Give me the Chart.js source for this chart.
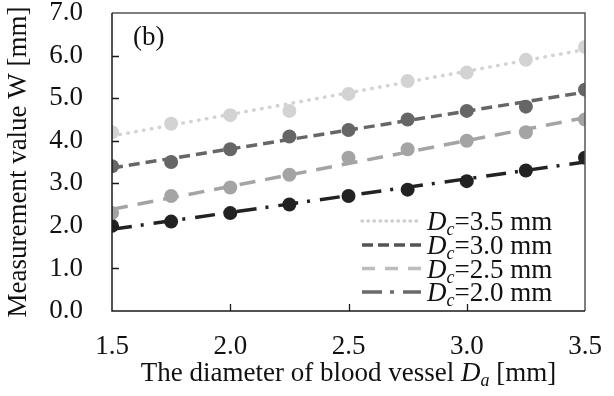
<!DOCTYPE html>
<html>
<head>
<meta charset="UTF-8">
<title>Measurement value W</title>
<script src="https://cdn.jsdelivr.net/npm/chart.js"></script>
<style>
  html, body { margin: 0; padding: 0; background: #fff; }
  #wrap { width: 614px; height: 396px; }
</style>
</head>
<body>
<div id="wrap"><canvas id="chart" width="614" height="396"></canvas></div>
<script>
// blood vessel diameter Da [mm]
var diameters = [1.5, 1.75, 2.0, 2.25, 2.5, 2.75, 3.0, 3.25, 3.5];

// measured W [mm] for each Dc
var seriesDc = ['3.5', '3.0', '2.5', '2.0'];
var wDc35 = [4.2, 4.4, 4.6, 4.7, 5.1, 5.4, 5.6, 5.9, 6.2];
var wDc30 = [3.4, 3.5, 3.8, 4.1, 4.25, 4.5, 4.7, 4.8, 5.2];
var wDc25 = [2.3, 2.7, 2.9, 3.2, 3.6, 3.8, 4.0, 4.2, 4.5];
var wDc20 = [2.0, 2.1, 2.3, 2.5, 2.7, 2.85, 3.05, 3.3, 3.6];

// linear trend line end values at Da = 1.5 and Da = 3.5
var trendStart = [4.11, 3.36, 2.39, 1.92];
var trendEnd = [6.14, 5.14, 4.54, 3.50];

var xTicks = [1.5, 2.0, 2.5, 3.0, 3.5];
var yTicks = [0, 1, 2, 3, 4, 5, 6, 7];

var serif = "'Liberation Serif', 'Times New Roman', serif";
var fontPx = 27;
var markerColors = ['#d3d3d3', '#666666', '#a4a4a4', '#222222'];
var legendColors = ['#d0d0d0', '#555555', '#bdbdbd', '#6a6a6a'];
var dashes = [[0.5, 7.5], [11, 6], [16, 10], [20, 9, 3, 10]];
var legendDashes = [[0.5, 5.5], [11, 5], [13, 10], [20, 8, 4, 9]];
var caps = ['round', 'butt', 'butt', 'butt'];

var allW = [wDc35, wDc30, wDc25, wDc20];

var datasets = [];
allW.forEach(function (vals, i) {
  datasets.push({
    label: 'trend ' + seriesDc[i],
    type: 'line',
    data: [{ x: diameters[0], y: trendStart[i] }, { x: diameters[diameters.length - 1], y: trendEnd[i] }],
    borderColor: markerColors[i],
    borderWidth: 3.5,
    borderDash: dashes[i],
    borderCapStyle: caps[i],
    pointRadius: 0,
    fill: false,
    order: 1
  });
  datasets.push({
    label: 'Dc=' + seriesDc[i] + ' mm',
    type: 'scatter',
    data: diameters.map(function (d, j) { return { x: d, y: vals[j] }; }),
    backgroundColor: markerColors[i],
    borderColor: markerColors[i],
    pointRadius: 7,
    pointBorderWidth: 0,
    order: 2
  });
});

// draws runs of text with different fonts (italic letters, subscripts)
function drawRuns(ctx, runs, x, y, align) {
  var total = 0;
  runs.forEach(function (r) { ctx.font = r.font; total += ctx.measureText(r.t).width; });
  var cx = align === 'center' ? x - total / 2 : x;
  ctx.textAlign = 'left';
  ctx.textBaseline = 'alphabetic';
  runs.forEach(function (r) {
    ctx.font = r.font;
    ctx.fillText(r.t, cx, y + (r.dy || 0));
    cx += ctx.measureText(r.t).width;
  });
}

var decor = {
  id: 'decor',
  afterDraw: function (chart) {
    var ctx = chart.ctx;
    var a = chart.chartArea;
    var xs = chart.scales.x, ys = chart.scales.y;
    var big = fontPx + 'px ' + serif;
    var bigItalic = 'italic ' + fontPx + 'px ' + serif;
    var sub = 'italic 18px ' + serif;
    ctx.save();

    // plot frame
    ctx.lineWidth = 1.5;
    ctx.strokeStyle = '#555';
    ctx.beginPath();
    ctx.moveTo(a.left, a.top); ctx.lineTo(a.right, a.top); ctx.lineTo(a.right, a.bottom);
    ctx.stroke();
    ctx.strokeStyle = '#1a1a1a';
    ctx.beginPath();
    ctx.moveTo(a.left, a.top); ctx.lineTo(a.left, a.bottom); ctx.lineTo(a.right, a.bottom);
    ctx.stroke();

    // inward tick marks
    ctx.lineWidth = 1.3;
    ctx.beginPath();
    xTicks.slice(1, -1).forEach(function (v) {
      var px = Math.round(xs.getPixelForValue(v)) + 0.5;
      ctx.moveTo(px, a.bottom); ctx.lineTo(px, a.bottom - 7);
    });
    yTicks.slice(1, -1).forEach(function (v) {
      var py = Math.round(ys.getPixelForValue(v)) + 0.5;
      ctx.moveTo(a.left, py); ctx.lineTo(a.left + 7, py);
    });
    ctx.stroke();

    ctx.fillStyle = '#111';
    // panel label
    ctx.font = big;
    ctx.textAlign = 'left';
    ctx.textBaseline = 'alphabetic';
    ctx.fillText('(b)', 133, 45);

    // x axis title
    drawRuns(ctx, [
      { t: 'The diameter of blood vessel ', font: big },
      { t: 'D', font: bigItalic },
      { t: 'a', font: sub, dy: 5 },
      { t: ' [mm]', font: big }
    ], (a.left + a.right) / 2, 381, 'center');

    // legend
    var rowY = [221, 245, 268.5, 292];
    seriesDc.forEach(function (dc, i) {
      ctx.strokeStyle = legendColors[i];
      ctx.lineWidth = 3.5;
      ctx.lineCap = caps[i];
      ctx.setLineDash(legendDashes[i]);
      ctx.beginPath();
      ctx.moveTo(362, rowY[i]); ctx.lineTo(421, rowY[i]);
      ctx.stroke();
      ctx.setLineDash([]);
      ctx.fillStyle = '#111';
      drawRuns(ctx, [
        { t: 'D', font: bigItalic },
        { t: 'c', font: sub, dy: 5 },
        { t: '=' + dc + ' mm', font: big }
      ], 427, rowY[i] + 9, 'left');
    });

    ctx.restore();
  }
};

Chart.defaults.font.family = serif;
Chart.defaults.color = '#111';

new Chart(document.getElementById('chart'), {
  type: 'scatter',
  data: { datasets: datasets },
  options: {
    responsive: false,
    animation: false,
    devicePixelRatio: 1,
    layout: { padding: { top: 13, right: 29, left: 0, bottom: 0 } },
    plugins: {
      legend: { display: false },
      tooltip: { enabled: false }
    },
    scales: {
      x: {
        type: 'linear',
        min: 1.5,
        max: 3.5,
        afterFit: function (s) { s.height = 85; s.paddingLeft = 0; s.paddingRight = 0; },
        afterBuildTicks: function (s) { s.ticks = xTicks.map(function (v) { return { value: v }; }); },
        grid: { display: false, drawTicks: false },
        border: { display: false },
        ticks: {
          padding: 20,
          font: { size: fontPx },
          callback: function (v) { return Number(v).toFixed(1); }
        }
      },
      y: {
        min: 0,
        max: 7,
        afterFit: function (s) { s.width = 112; s.paddingTop = 0; s.paddingBottom = 0; },
        afterBuildTicks: function (s) { s.ticks = yTicks.map(function (v) { return { value: v }; }); },
        grid: { display: false, drawTicks: false },
        border: { display: false },
        title: {
          display: true,
          text: 'Measurement value W [mm]',
          font: { size: fontPx },
          padding: { top: 3, bottom: 0 }
        },
        ticks: {
          padding: 29,
          font: { size: fontPx },
          callback: function (v) { return Number(v).toFixed(1); }
        }
      }
    }
  },
  plugins: [decor]
});
</script>
</body>
</html>
